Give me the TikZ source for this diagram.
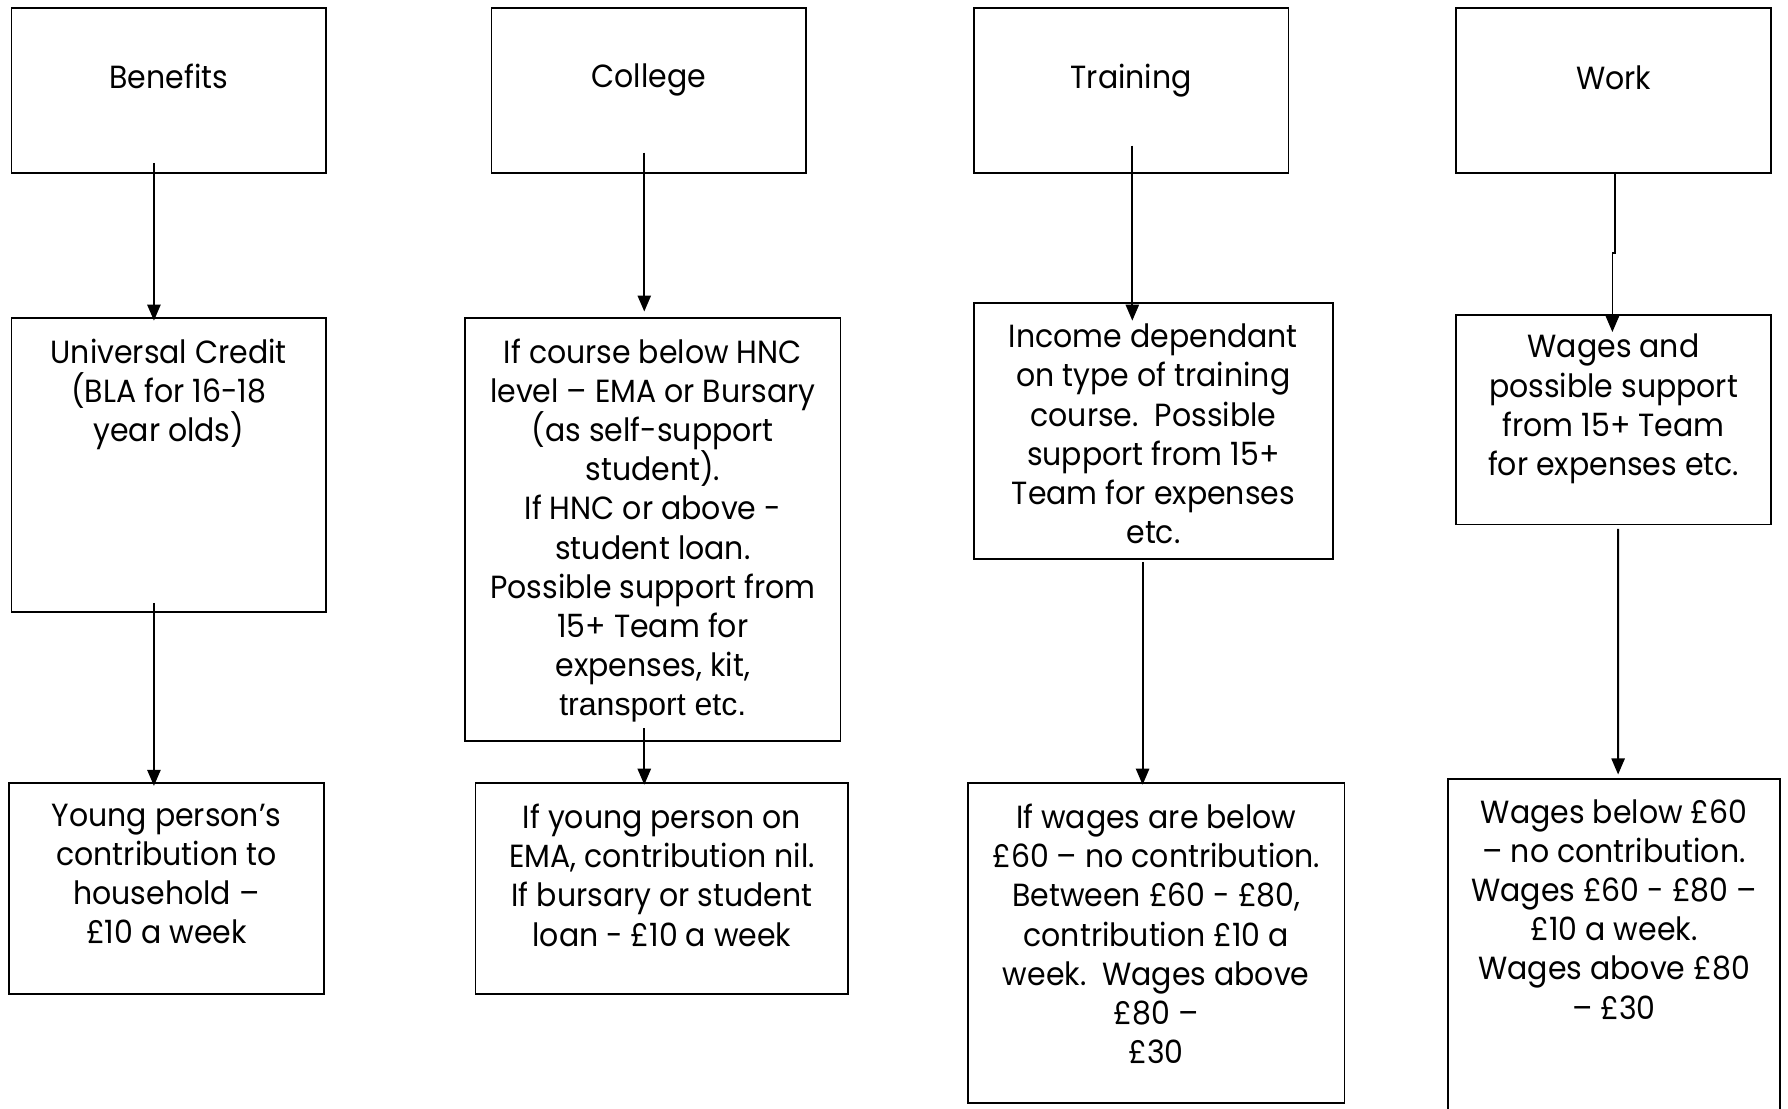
\documentclass[tikz,border=0pt]{standalone}
\usepackage{fontspec}
\setmainfont{Poppins}[FakeStretch=0.935]
\newfontfamily\arialf{Liberation Sans}
\usetikzlibrary{arrows.meta,fit,calc}
\begin{document}
\begin{tikzpicture}[x=0.02cm,y=-0.02cm,
  box/.style={draw, line width=0.9pt, inner sep=0pt, rectangle},
  txt/.style={anchor=north, inner sep=0pt, align=center, font=\fontsize{16pt}{19.56pt}\selectfont},
  arr/.style={line width=0.9pt, -{Triangle[length=8pt,width=6.6pt]}}]
\useasboundingbox (0,0) rectangle (1568,972);
\clip (0,0) rectangle (1568,972);
% boxes
\node[box, fit={(10,7)(286,152)}] (ben) {};
\node[box, fit={(431,7)(707,152)}] (col) {};
\node[box, fit={(854,7)(1130,152)}] (tra) {};
\node[box, fit={(1277,7)(1553,152)}] (wrk) {};
\node[box, fit={(10,279)(286,537)}] (uc) {};
\node[box, fit={(408,279)(737,650)}] (col2) {};
\node[box, fit={(854,266)(1169,490)}] (tra2) {};
\node[box, fit={(1277,276)(1553,460)}] (wrk2) {};
\node[box, fit={(8,687)(284,872)}] (yp) {};
\node[box, fit={(417,687)(744,872)}] (col3) {};
\node[box, fit={(849,687)(1179,967)}] (tra3) {};
\node[box, fit={(1270,683)(1561,1010)}] (wrk3) {};
% texts
\node[txt] (ben-t) at ($(ben.north)+(0,49.5)$) {Benefits};
\node[txt] (col-t) at ($(col.north)+(0,49.5)$) {College};
\node[txt] (tra-t) at ($(tra.north)+(0,49.5)$) {Training};
\node[txt] (wrk-t) at ($(wrk.north)+(0,51.5)$) {Work};
\node[txt] (uc-t) at ($(uc.north)+(0,18.5)$) {Universal Credit\\(BLA for 16-18\\year olds)};
\node[txt] (col2-t) at ($(col2.north)+(0,18.5)$) {If course below HNC\\level – EMA or Bursary\\(as self-support\\student).\\If HNC or above -\\student loan.\\Possible support from\\15+ Team for\\expenses, kit,\\{\arialf transport etc.}};
\node[txt] (tra2-t) at ($(tra2.north)+(0,18.5)$) {Income dependant\\on type of training\\course.\ \ Possible\\support from 15+\\Team for expenses\\etc.};
\node[txt] (wrk2-t) at ($(wrk2.north)+(0,17.5)$) {Wages and\\possible support\\from 15+ Team\\for expenses etc.};
\node[txt] (yp-t) at ($(yp.north)+(0,18.5)$) {Young person’s\\contribution to\\household –\\£10 a week};
\node[txt] (col3-t) at ($(col3.north)+(0,18.5)$) {If young person on\\EMA, contribution nil.\\If bursary or student\\loan - £10 a week};
\node[txt] (tra3-t) at ($(tra3.north)+(0,18.5)$) {If wages are below\\£60 – no contribution.\\Between £60 - £80,\\contribution £10 a\\week.\ \ Wages above\\£80 –\\£30};
\node[txt] (wrk3-t) at ($(wrk3.north)+(0,18.5)$) {Wages below £60\\– no contribution.\\Wages £60 - £80 –\\£10 a week.\\Wages above £80\\– £30};
% connectors
\draw[arr] ($(ben.south)+(-13,-10)$) -- ($(uc.north)+(-13,3)$);
\draw[arr] ($(uc.south)+(-13,-9)$) -- ($(yp.north)+(-11,3)$);
\draw[arr] ($(col.south)+(-4,-19)$) -- ($(col2.north)+(-7.5,-5)$);
\draw[arr] ($(col2.south)+(-7.5,-12)$) -- ($(col3.north)+(-15.5,2)$);
\draw[arr] ($(tra.south)+(1,-25)$) -- ($(tra2.north)+(-18.5,16)$);
\draw[arr] ($(tra2.south)+(-9.5,2)$) -- ($(tra3.north)+(-12,2)$);
\draw[arr] ($(wrk.south)+(1,-2)$) -- ++(0,71) -- ++(-2,0) -- ($(wrk2.north)+(-1,16)$);
\draw[arr] ($(wrk2.south)+(4,3)$) -- ($(wrk3.north)+(3.5,-3)$);
\end{tikzpicture}
\end{document}
